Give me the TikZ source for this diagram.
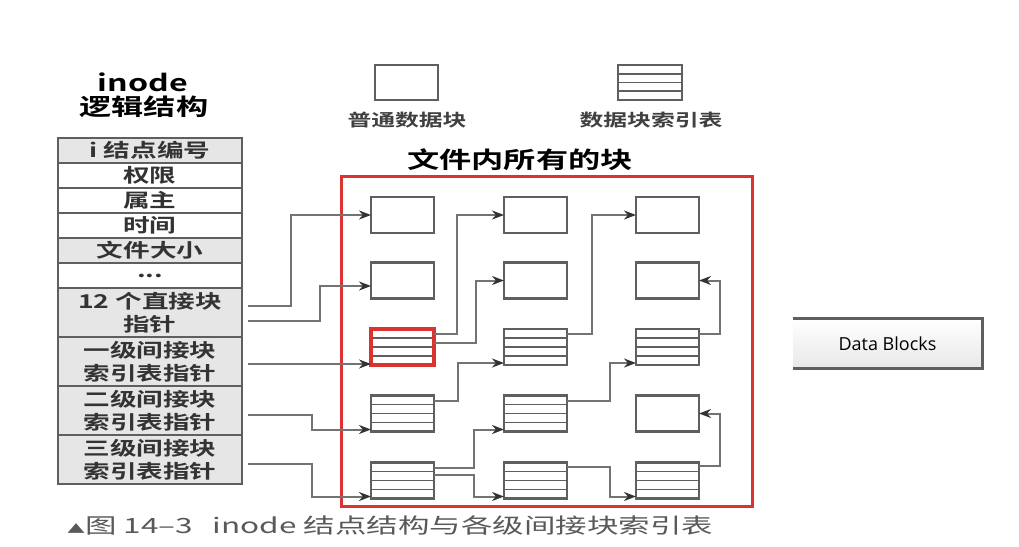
\documentclass[tikz,border=0pt]{standalone}
\usepackage{fontspec}
\newfontfamily\cjk[FakeStretch=1.4, BoldFont={Noto Sans CJK SC Bold}]{Noto Sans CJK SC}
\newfontfamily\cjkcap[FakeStretch=1.5]{Noto Sans CJK SC}
\newfontfamily\dbfont{Open Sans}
\usetikzlibrary{positioning, calc, arrows.meta}
\definecolor{Lnred}{RGB}{218,52,48}
\definecolor{Lngray}{RGB}{95,95,95}
\definecolor{Rowgray}{RGB}{230,230,230}

\begin{document}
\begin{tikzpicture}[
  x=0.5pt, y=-0.5pt,
  inrow/.style ={rectangle, draw=Lngray, line width=1.1pt, fill=white,
               minimum width=92pt, minimum height=12.5pt,
               inner sep=0pt, outer sep=0pt, align=center, text=black!80,
               font=\cjk\bfseries\fontsize{9.5}{11.5}\selectfont},
  grayrow/.style={inrow, fill=Rowgray},
  dblrow/.style={grayrow, minimum height=24.5pt},
  pblk/.style={rectangle, draw=Lngray, line width=1.1pt, fill=white,
               minimum width=31.5pt, minimum height=18pt,
               inner sep=0pt, outer sep=0pt},
  iblk/.style={pblk, path picture={
                 \foreach \f in {0.25,0.5,0.75}
                   \draw[Lngray, line width=0.9pt]
                     ($(path picture bounding box.south west)!\f!(path picture bounding box.north west)$)
                  -- ($(path picture bounding box.south east)!\f!(path picture bounding box.north east)$);}},
  lbl/.style ={font=\cjk\bfseries\fontsize{8.5}{10}\selectfont, text=black!75},
  arr/.style ={-{Stealth[length=6pt, width=4.5pt, color=black!80]},
               line width=1pt, draw=black!55},
]
\fill[white] (0,0) rectangle (1019,547);
\useasboundingbox (0,0) rectangle (1019,547);

%% inode logical structure
\node[font=\cjk\bfseries\fontsize{11.5}{12}\selectfont] (ttl1) at (143,82) {inode};
\node[font=\cjk\bfseries\fontsize{11.5}{12}\selectfont] (ttl2) at (144,107) {逻辑结构};

\node[grayrow] (r1) at (150,150.5) {i 结点编号};
\node[inrow,   below=0pt of r1] (r2) {权限};
\node[inrow,   below=0pt of r2] (r3) {属主};
\node[inrow,   below=0pt of r3] (r4) {时间};
\node[grayrow, below=0pt of r4] (r5) {文件大小};
\node[inrow,   below=0pt of r5] (r6) {...};
\node[dblrow,  below=0pt of r6] (r7) {12 个直接块\\指针};
\node[dblrow,  below=0pt of r7] (r8) {一级间接块\\索引表指针};
\node[dblrow,  below=0pt of r8] (r9) {二级间接块\\索引表指针};
\node[dblrow,  below=0pt of r9] (r10) {三级间接块\\索引表指针};

%% legend
\node[pblk, minimum height=17.5pt] (lgp) at (406.5,82.5) {};
\node[iblk, minimum width=32pt, minimum height=17.5pt] (lgi) at (650,82.5) {};
\node[lbl] (lgpt) at (407,120) {普通数据块};
\node[lbl] (lgit) at (651,120) {数据块索引表};

%% all blocks of the file
\node[font=\cjk\bfseries\fontsize{11.5}{12}\selectfont] (fbt) at (520,160) {文件内所有的块};
\draw[Lnred, line width=1.5pt] (341,176) rectangle (752,506);

\node[pblk] (b11) at (402.5,215) {};
\node[pblk] (b12) at (535.5,215) {};
\node[pblk] (b13) at (667.5,215) {};
\node[pblk] (b21) at (402.5,280.5) {};
\node[pblk] (b22) at (535.5,280.5) {};
\node[pblk] (b23) at (667.5,280.5) {};
\node[iblk, draw=Lnred, line width=2pt] (b31) at (402.5,347) {};
\node[iblk] (b32) at (535.5,347) {};
\node[iblk] (b33) at (667.5,347) {};
\node[iblk] (b41) at (402.5,413.5) {};
\node[iblk] (b42) at (535.5,413.5) {};
\node[pblk] (b43) at (667.5,413.5) {};
\node[iblk] (b51) at (402.5,480.5) {};
\node[iblk] (b52) at (535.5,480.5) {};
\node[iblk] (b53) at (667.5,480.5) {};

% inode pointers
\coordinate (p1) at ([xshift=3pt, yshift=3.5pt]r7.east);
\coordinate (p2) at ([xshift=3pt, yshift=-4pt]r7.east);
\coordinate (p3) at ([xshift=3pt, yshift=-1.25pt]r8.east);
\coordinate (p4) at ([xshift=3pt, yshift=-2.25pt]r9.east);
\coordinate (p5) at ([xshift=3pt, yshift=-2.25pt]r10.east);
\draw[arr] (p1) -- ++(43,0) |- (b11.west);
\draw[arr] (p2) -- ++(72,0) |- ([yshift=-2.75pt]b21.west);
\draw[arr] (p3) -- (p3 -| b31.west);
\draw[arr] (p4) -- ++(64,0) |- ([yshift=1pt]b41.south west);
\draw[arr] (p5) -- ++(64,0) |- ([yshift=1pt]b51.south west);

% first column to second
\draw[arr] ([yshift=6.5pt]b31.east)  -- ++(23,0) |- (b12.west);
\draw[arr] ([yshift=2pt]b31.east)    -- ++(42,0) |- (b22.west);
\draw[arr] ([yshift=6.25pt]b41.east) -- ++(24,0) |- ([yshift=1pt]b32.south west);
\draw[arr] ([yshift=6.25pt]b51.east) -- ++(40,0) |- ([yshift=1pt]b42.south west);
\draw[arr] ([yshift=2.75pt]b51.east) -- ++(40,0) |- ([yshift=1pt]b52.south west);

% second column to third
\draw[arr] ([yshift=6.5pt]b32.east)  -- ++(25,0) |- (b13.west);
\draw[arr] ([yshift=6.25pt]b42.east) -- ++(43,0) |- ([yshift=1pt]b33.south west);
\draw[arr] ([yshift=6.75pt]b52.east) -- ++(43,0) |- ([yshift=1pt]b53.south west);

% third column back up
\draw[arr] ([yshift=6.5pt]b33.east)  -- ++(21,0) |- (b23.east);
\draw[arr] ([yshift=7.25pt]b53.east) -- ++(21,0) |- (b43.east);

%% Data Blocks
\node[minimum width=94.5pt, minimum height=24.5pt, inner sep=0pt,
      top color=white, bottom color=gray!18,
      font=\dbfont\fontsize{9}{10}\selectfont] (db) at (887.5,343.5) {Data Blocks};
\draw[Lngray, line width=1.2pt] (db.north west) -- (db.north east)
  -- (db.south east) -- (db.south west);

%% caption
\node[anchor=west, text=black!65, font=\cjkcap\fontsize{10.5}{12}\selectfont]
  (cap) at (60,525) {{\fontsize{6}{6}\selectfont ▲}图 14–3\hspace{10pt}inode 结点结构与各级间接块索引表};
\end{tikzpicture}
\end{document}
